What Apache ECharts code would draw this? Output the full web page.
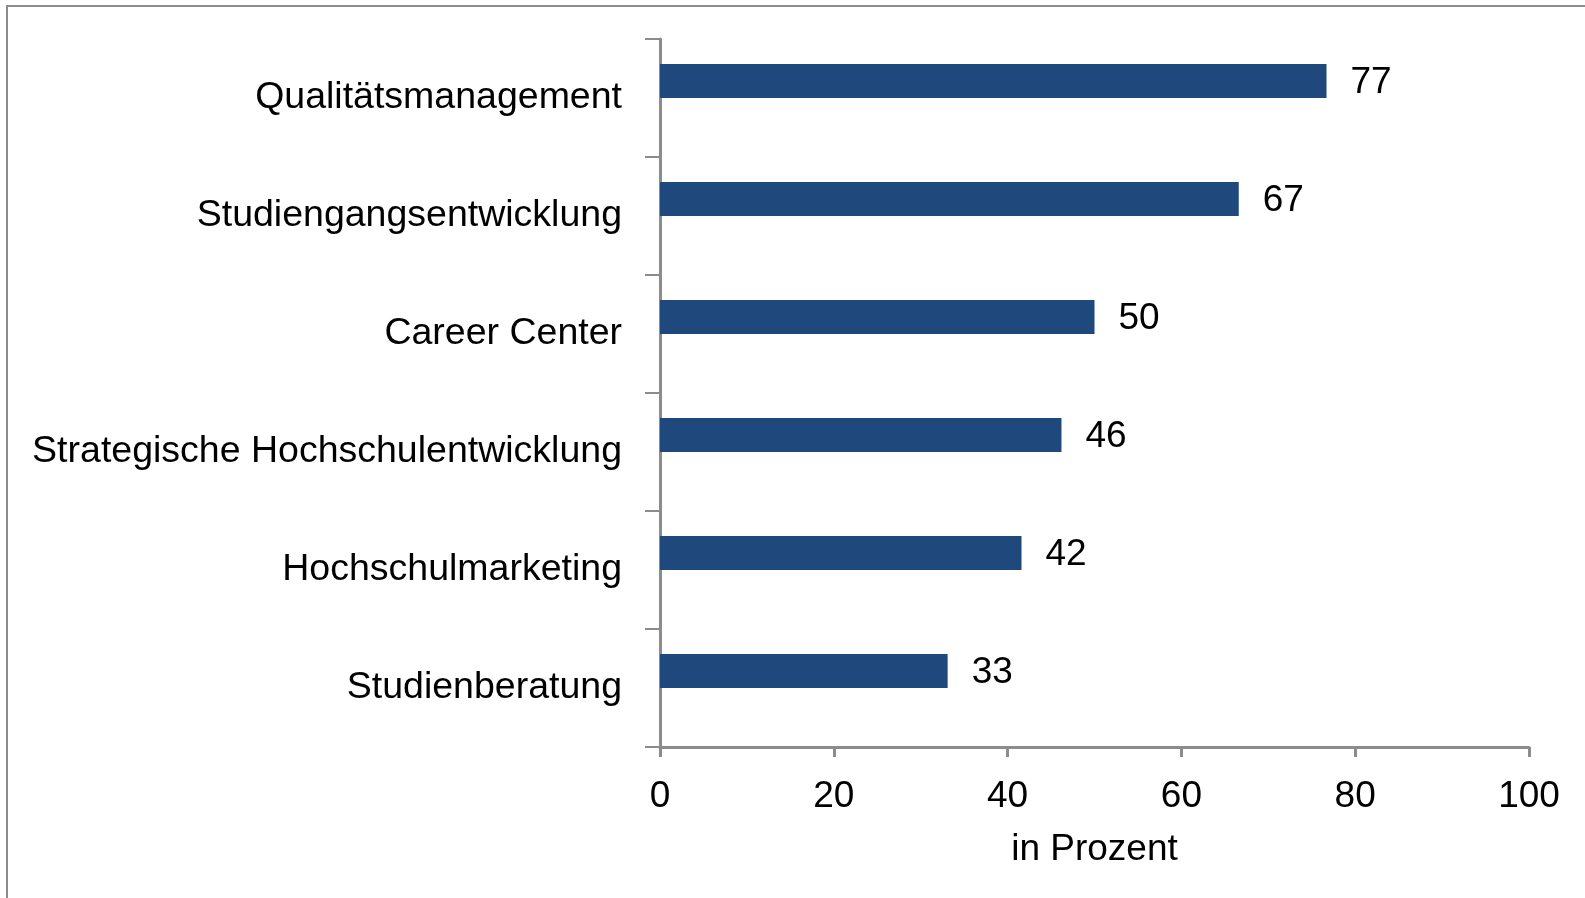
<!DOCTYPE html>
<html>
<head>
<meta charset="utf-8">
<script src="https://cdn.jsdelivr.net/npm/echarts@6/dist/echarts.min.js"></script>
<style>
  html, body { margin: 0; padding: 0; background: #fff; }
  #frame {
    position: absolute; left: 6px; top: 5px;
    width: 1600px; height: 920px;
    border: 2px solid #8c8c8c;
    box-sizing: border-box;
  }
  #chart { position: absolute; left: 0; top: 0; width: 1585px; height: 898px; }
</style>
</head>
<body>
<div id="frame"></div>
<div id="chart"></div>
<script>
const categories = ['Qualitätsmanagement', 'Studiengangsentwicklung', 'Career Center', 'Strategische Hochschulentwicklung', 'Hochschulmarketing', 'Studienberatung']
const values = [76.7, 66.6, 50.0, 46.2, 41.6, 33.1]
const xTicks = [0, 20, 40, 60, 80, 100]

const fontFamily = '"Liberation Sans", Arial, sans-serif'
const axisColor = '#8c8c8c'

const chart = echarts.init(document.getElementById('chart'), null, { renderer: 'canvas' })
const option = {
  animation: false,
  grid: {
    left: 660,
    right: 56,
    top: 39,
    bottom: 151,
    containLabel: false
  },
  xAxis: {
    type: 'value',
    min: xTicks[0],
    max: xTicks[xTicks.length - 1],
    interval: xTicks[1] - xTicks[0],
    name: 'in Prozent',
    nameLocation: 'middle',
    nameGap: 84,
    nameTextStyle: { color: '#000', fontSize: 37, fontFamily: fontFamily, verticalAlign: 'top' },
    axisLine: { show: true, lineStyle: { color: axisColor, width: 3 } },
    axisTick: { show: true, length: 10, lineStyle: { color: axisColor, width: 3 } },
    axisLabel: { color: '#000', fontSize: 37, fontFamily: fontFamily, margin: 31 },
    splitLine: { show: false }
  },
  yAxis: {
    type: 'category',
    data: categories,
    inverse: true,
    axisLine: { show: true, lineStyle: { color: axisColor, width: 3 } },
    axisTick: { show: true, length: 15, lineStyle: { color: axisColor, width: 2 } },
    axisLabel: { color: '#000', fontSize: 37.5, fontFamily: fontFamily, margin: 38 },
    splitLine: { show: false }
  },
  series: [
    {
      name: 'Anteil',
      type: 'bar',
      data: values,
      barWidth: 34,
      barGap: 0,
      itemStyle: { color: '#1f497d' },
      label: {
        show: true,
        position: 'right',
        distance: 24,
        offset: [0, 2],
        color: '#000',
        fontSize: 37,
        fontFamily: fontFamily,
        formatter: p => Math.round(p.value)
      }
    },
    {
      // zweite (leere) Reihe wie im Original, schiebt die Balken nach oben
      name: 'leer',
      type: 'bar',
      data: [],
      barWidth: 34,
      barGap: 0,
      silent: true
    }
  ]
}
chart.setOption(option)
</script>
</body>
</html>
